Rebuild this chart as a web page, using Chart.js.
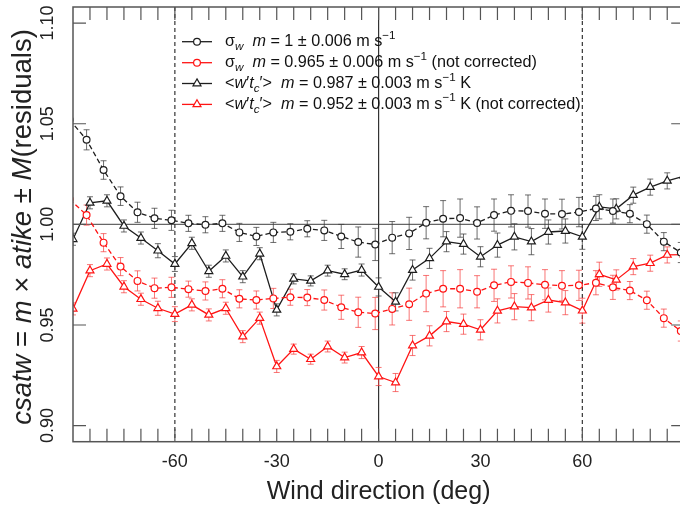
<!DOCTYPE html>
<html><head><meta charset="utf-8">
<style>html,body{margin:0;padding:0;overflow:hidden;background:#fff;width:680px;height:511px}</style>
<script src="https://cdn.jsdelivr.net/npm/chart.js@4.4.1/dist/chart.umd.min.js"></script>
</head><body>
<canvas id="c" width="690" height="511" style="display:block;width:690px;height:511px"></canvas>
<script>
// ---------- data ----------
const circleDirs = [-91,-86,-81,-76,-71,-66,-61,-56,-51,-46,-41,-36,-31,-26,-21,-16,-11,-6,-1,4,9,14,19,24,29,34,39,44,49,54,59,64,69,74,79,84,89];
const triangleDirs = [-90,-85,-80,-75,-70,-65,-60,-55,-50,-45,-40,-35,-30,-25,-20,-15,-10,-5,0,5,10,15,20,25,30,35,40,45,50,55,60,65,70,75,80,85,90];

const sigmaW = [1.052,1.042,1.027,1.014,1.006,1.003,1.002,1.0005,0.9998,1.0005,0.996,0.994,0.996,0.9963,0.9978,0.997,0.994,0.9912,0.990,0.9934,0.9955,1.0008,1.0028,1.0031,1.0007,1.0046,1.0067,1.0066,1.0053,1.0051,1.0061,1.0079,1.0066,1.0053,1.0001,0.9914,0.986];
const sigmaWErr = [0.005,0.005,0.0046,0.0046,0.005,0.005,0.005,0.004,0.004,0.004,0.0045,0.0045,0.005,0.004,0.004,0.005,0.006,0.0075,0.008,0.008,0.008,0.008,0.009,0.0095,0.008,0.008,0.008,0.008,0.0073,0.0074,0.0073,0.006,0.006,0.0045,0.0045,0.0045,0.005];

const sigmaWNC = [1.0125,1.0046,0.9909,0.979,0.9719,0.9683,0.9687,0.9678,0.9669,0.968,0.963,0.9624,0.9632,0.9638,0.9636,0.9624,0.9588,0.9563,0.9557,0.958,0.9603,0.9656,0.968,0.968,0.9665,0.9697,0.9714,0.9709,0.970,0.9695,0.9697,0.971,0.9687,0.9671,0.9623,0.9534,0.947];
const sigmaWNCErr = [0.005,0.005,0.0045,0.0045,0.005,0.005,0.005,0.004,0.0045,0.0045,0.0045,0.0045,0.005,0.004,0.004,0.005,0.006,0.0075,0.008,0.008,0.008,0.009,0.009,0.0095,0.008,0.008,0.008,0.008,0.0075,0.0075,0.0075,0.006,0.006,0.0045,0.0045,0.0045,0.005];

const wtc = [0.9926,1.0107,1.0117,0.9992,0.9932,0.9869,0.9803,0.9906,0.9767,0.9843,0.974,0.9854,0.9575,0.9729,0.9719,0.977,0.9752,0.9773,0.9689,0.9615,0.9773,0.9831,0.9914,0.9902,0.9839,0.9897,0.9938,0.9914,0.9962,0.9967,0.9938,1.0087,1.0077,1.0145,1.0185,1.0216,1.024];
const wtcErr = [0.003,0.003,0.003,0.003,0.003,0.0035,0.0037,0.003,0.003,0.003,0.003,0.003,0.003,0.0025,0.0025,0.0027,0.0027,0.003,0.0045,0.0045,0.005,0.005,0.005,0.005,0.005,0.006,0.0065,0.0065,0.006,0.006,0.0062,0.006,0.005,0.004,0.004,0.004,0.004];

const wtcNC = [0.958,0.977,0.9803,0.969,0.9628,0.9583,0.9554,0.960,0.955,0.9583,0.9442,0.9534,0.9294,0.938,0.933,0.9393,0.9338,0.9363,0.9244,0.9214,0.9398,0.9446,0.9517,0.9504,0.9476,0.957,0.9591,0.9586,0.9624,0.9611,0.9571,0.9752,0.9724,0.979,0.9807,0.9848,0.985];
const wtcNCErr = [0.003,0.003,0.003,0.003,0.003,0.0035,0.0037,0.003,0.003,0.003,0.003,0.003,0.003,0.0025,0.0025,0.0027,0.0027,0.003,0.0045,0.0045,0.005,0.005,0.005,0.005,0.005,0.006,0.0065,0.0065,0.006,0.006,0.0062,0.006,0.005,0.004,0.004,0.004,0.004];

const xMajorTicks = [-60,-30,0,30,60];
const xMinorTicks = [-85,-80,-75,-70,-65,-60,-55,-50,-45,-40,-35,-30,-25,-20,-15,-10,-5,0,5,10,15,20,25,30,35,40,45,50,55,60,65,70,75,80,85];
const yTicks = [0.90,0.95,1.00,1.05,1.10];
const yTickLabels = ['0.90','0.95','1.00','1.05','1.10'];
const xDashedRefs = [-60,60];
const xSolidRefs = [0];
const yRefs = [1.00];

const xTitle = 'Wind direction (deg)';
const yTitleSegs = [{t:'csatw',i:1},{t:' = '},{t:'m',i:1},{t:' \u00d7 '},{t:'atike',i:1},{t:' \u00b1 '},{t:'M',i:1},{t:'(residuals)'}];
const legendSegs = [
  [{t:'\u03c3'},{t:'w',i:1,sub:1},{t:'  '},{t:'m',i:1},{t:' = 1 \u00b1 0.006 m s'},{t:'\u22121',sup:1}],
  [{t:'\u03c3'},{t:'w',i:1,sub:1},{t:'  '},{t:'m',i:1},{t:' = 0.965 \u00b1 0.006 m s'},{t:'\u22121',sup:1},{t:' (not corrected)'}],
  [{t:'<'},{t:'w',i:1},{t:'\u2032'},{t:'t',i:1},{t:'c',i:1,sub:1},{t:'\u2032>'},{t:'  '},{t:'m',i:1},{t:' = 0.987 \u00b1 0.003 m s'},{t:'\u22121',sup:1},{t:' K'}],
  [{t:'<'},{t:'w',i:1},{t:'\u2032'},{t:'t',i:1},{t:'c',i:1,sub:1},{t:'\u2032>'},{t:'  '},{t:'m',i:1},{t:' = 0.952 \u00b1 0.003 m s'},{t:'\u22121',sup:1},{t:' K (not corrected)'}]
];

// ---------- styles ----------
const BLACK = '#1e1e1e', RED = '#ff1414';
const FONT = '"Liberation Sans", Arial, Helvetica, sans-serif';
const pts = (xs, ys) => xs.map((x, i) => ({x, y: ys[i]}));

const seriesDefs = [
  {xs: circleDirs, ys: sigmaW, es: sigmaWErr, color: BLACK, errColor: 'rgba(60,60,60,0.75)', style: 'circle', dash: [5,3]},
  {xs: circleDirs, ys: sigmaWNC, es: sigmaWNCErr, color: RED, errColor: 'rgba(245,60,60,0.7)', style: 'circle', dash: [5,3]},
  {xs: triangleDirs, ys: wtc, es: wtcErr, color: BLACK, errColor: 'rgba(60,60,60,0.75)', style: 'triangle', dash: []},
  {xs: triangleDirs, ys: wtcNC, es: wtcNCErr, color: RED, errColor: 'rgba(245,60,60,0.7)', style: 'triangle', dash: []}
];

const datasets = seriesDefs.map(s => ({
  data: pts(s.xs, s.ys),
  showLine: true,
  borderColor: s.color,
  borderWidth: 1.3,
  borderDash: s.dash,
  pointStyle: s.style,
  pointRadius: s.style === 'circle' ? 3.4 : 4.6,
  pointBorderWidth: 1.2,
  pointBorderColor: s.color,
  pointBackgroundColor: '#ffffff',
  tension: 0,
  clip: 0
}));

function richWidth(ctx, segs, size) {
  let w = 0;
  for (const s of segs) {
    const sz = (s.sub || s.sup) ? size * 0.72 : size;
    ctx.font = (s.i ? 'italic ' : '') + sz + 'px ' + FONT;
    w += ctx.measureText(s.t).width;
  }
  return w;
}
function drawRich(ctx, segs, x, y, size) {
  for (const s of segs) {
    const sz = (s.sub || s.sup) ? size * 0.72 : size;
    const dy = s.sub ? size * 0.3 : (s.sup ? -size * 0.38 : 0);
    ctx.font = (s.i ? 'italic ' : '') + sz + 'px ' + FONT;
    ctx.fillText(s.t, x, y + dy);
    x += ctx.measureText(s.t).width;
  }
}
function drawMarker(ctx, style, x, y, r, color) {
  ctx.save();
  ctx.strokeStyle = color; ctx.fillStyle = '#fff'; ctx.lineWidth = 1.2; ctx.setLineDash([]);
  ctx.beginPath();
  if (style === 'circle') { ctx.arc(x, y, r, 0, Math.PI * 2); }
  else {
    ctx.moveTo(x, y - r);
    ctx.lineTo(x + r * Math.sin(Math.PI / 3) , y + r * 0.5);
    ctx.lineTo(x - r * Math.sin(Math.PI / 3), y + r * 0.5);
    ctx.closePath();
  }
  ctx.fill(); ctx.stroke();
  ctx.restore();
}

const decor = {
  id: 'decor',
  beforeDatasetsDraw(chart) {
    const {ctx, chartArea: a, scales: {x, y}} = chart;
    ctx.save();
    ctx.beginPath(); ctx.rect(a.left, a.top, a.right - a.left, a.bottom - a.top); ctx.clip();
    ctx.lineWidth = 1.2;
    ctx.strokeStyle = '#666';
    for (const v of yRefs) { const py = y.getPixelForValue(v); ctx.beginPath(); ctx.moveTo(a.left, py); ctx.lineTo(a.right, py); ctx.stroke(); }
    ctx.strokeStyle = '#333';
    for (const v of xSolidRefs) { const px = x.getPixelForValue(v); ctx.beginPath(); ctx.moveTo(px, a.top); ctx.lineTo(px, a.bottom); ctx.stroke(); }
    ctx.setLineDash([4, 3]);
    for (const v of xDashedRefs) { const px = x.getPixelForValue(v); ctx.beginPath(); ctx.moveTo(px, a.top); ctx.lineTo(px, a.bottom); ctx.stroke(); }
    ctx.setLineDash([]);
    ctx.lineWidth = 1;
    for (const s of seriesDefs) {
      ctx.strokeStyle = s.errColor;
      s.xs.forEach((xv, i) => {
        const px = x.getPixelForValue(xv);
        const y1 = y.getPixelForValue(s.ys[i] - s.es[i]);
        const y2 = y.getPixelForValue(s.ys[i] + s.es[i]);
        ctx.beginPath();
        ctx.moveTo(px, y1); ctx.lineTo(px, y2);
        ctx.moveTo(px - 3, y1); ctx.lineTo(px + 3, y1);
        ctx.moveTo(px - 3, y2); ctx.lineTo(px + 3, y2);
        ctx.stroke();
      });
    }
    ctx.restore();
  },
  afterDraw(chart) {
    const {ctx, chartArea: a, scales: {x, y}} = chart;
    ctx.save();
    ctx.strokeStyle = '#555'; ctx.lineWidth = 1.5;
    ctx.strokeRect(a.left, a.top, a.right - a.left, a.bottom - a.top);
    ctx.lineWidth = 1.2;
    const TL = 13;
    ctx.beginPath();
    for (const v of xMinorTicks) {
      const px = x.getPixelForValue(v);
      ctx.moveTo(px, a.bottom); ctx.lineTo(px, a.bottom - TL);
      ctx.moveTo(px, a.top); ctx.lineTo(px, a.top + TL);
    }
    for (const v of yTicks) {
      const py = y.getPixelForValue(v);
      ctx.moveTo(a.left, py); ctx.lineTo(a.left + TL, py);
      ctx.moveTo(a.right, py); ctx.lineTo(a.right - TL, py);
    }
    ctx.stroke();
    ctx.fillStyle = '#222';
    ctx.font = '18px ' + FONT;
    ctx.textAlign = 'center'; ctx.textBaseline = 'middle';
    for (const v of xMajorTicks) ctx.fillText(String(v), x.getPixelForValue(v), a.bottom + 20);
    yTicks.forEach((v, i) => {
      ctx.save(); ctx.translate(48, y.getPixelForValue(v)); ctx.rotate(-Math.PI / 2);
      ctx.fillText(yTickLabels[i], 0, 0); ctx.restore();
    });
    ctx.font = '25px ' + FONT;
    ctx.fillText(xTitle, x.getPixelForValue(0), 492);
    ctx.textAlign = 'left';
    const ys = 27.5;
    const yw = richWidth(ctx, yTitleSegs, ys);
    ctx.save(); ctx.translate(23, 227); ctx.rotate(-Math.PI / 2);
    drawRich(ctx, yTitleSegs, -yw / 2, 0, ys); ctx.restore();
    const rows = [41.7, 62.7, 83.5, 104.4];
    seriesDefs.forEach((s, i) => {
      const ly = rows[i];
      ctx.save();
      ctx.strokeStyle = s.color; ctx.lineWidth = 1.3;
      ctx.beginPath(); ctx.moveTo(182, ly); ctx.lineTo(212, ly); ctx.stroke();
      ctx.restore();
      drawMarker(ctx, s.style, 197, ly, s.style === 'circle' ? 3.4 : 4.6, s.color);
      ctx.fillStyle = '#111'; ctx.textBaseline = 'middle';
      drawRich(ctx, legendSegs[i], 225, ly, 16.2);
    });
    ctx.restore();
  }
};

new Chart(document.getElementById('c'), {
  type: 'scatter',
  data: {datasets},
  options: {
    responsive: false, animation: false, devicePixelRatio: 1,
    layout: {padding: {left: 73, top: 7, right: 4.6, bottom: 69.3}},
    plugins: {legend: {display: false}, tooltip: {enabled: false}},
    scales: {
      x: {type: 'linear', min: -90, max: 90, ticks: {display: false}, grid: {display: false, drawTicks: false}, border: {display: false}, afterFit: s => { s.height = 0; }},
      y: {type: 'linear', min: 0.892, max: 1.108, ticks: {display: false}, grid: {display: false, drawTicks: false}, border: {display: false}, afterFit: s => { s.width = 0; }}
    }
  },
  plugins: [decor]
});
</script>
</body></html>
